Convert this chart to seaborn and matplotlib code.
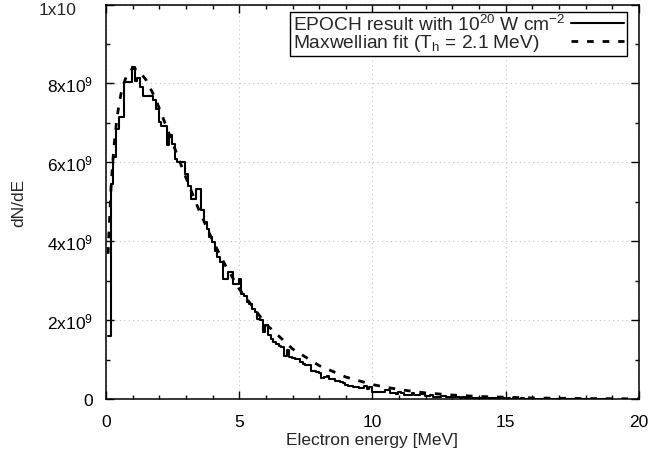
import numpy as np
import pandas as pd
import matplotlib
matplotlib.use("Agg")
import matplotlib.pyplot as plt
import seaborn as sns
from matplotlib.ticker import MultipleLocator, FixedLocator, FixedFormatter

# ---------------- data (dN/dE in units of 1e9) ----------------
bin_width = 0.1
first_edge = 0.075
hist_counts = [
    1.60, 5.45, 6.13, 6.84, 7.15, 7.15, 8.04, 8.04, 8.04, 8.42,
    8.06, 8.14, 7.91, 7.67, 7.67, 7.67, 7.67, 7.57, 7.36, 7.02,
    6.92, 6.92, 6.43, 6.70, 6.47, 6.09, 6.01, 6.01, 6.01, 5.71,
    5.41, 5.08, 5.08, 5.33, 5.33, 4.78, 4.48, 4.31, 4.10, 3.98,
    3.76, 3.60, 3.47, 3.05, 3.05, 3.22, 3.22, 2.92, 2.92, 3.05,
    2.66, 2.60, 2.45, 2.40, 2.28, 2.20, 2.03, 2.00, 1.69, 1.88,
    1.61, 1.52, 1.45, 1.40, 1.35, 1.31, 1.10, 1.23, 1.06, 1.04,
    1.02, 1.02, 0.95, 0.89, 0.87, 0.85, 0.72, 0.70, 0.68, 0.66,
    0.53, 0.56, 0.59, 0.51, 0.50, 0.46, 0.45, 0.42, 0.40, 0.36,
    0.34, 0.34, 0.31, 0.30, 0.28, 0.27, 0.33, 0.25, 0.30, 0.19,
    0.185, 0.18, 0.19, 0.18, 0.23, 0.22, 0.14, 0.14, 0.13, 0.17,
    0.16, 0.11, 0.11, 0.10, 0.15, 0.09, 0.09, 0.12, 0.12, 0.08,
    0.08, 0.10, 0.06, 0.06, 0.06, 0.08, 0.07, 0.04, 0.05, 0.04,
    0.04, 0.05, 0.03, 0.04, 0.03, 0.04, 0.03, 0.03, 0.02, 0.03,
    0.03, 0.02, 0.02, 0.03, 0.02, 0.02, 0.015, 0.02, 0.015, 0.01,
    0.02, 0.01, 0.015, 0.01, 0.01, 0.015, 0.01, 0.01, 0.005, 0.01,
    0.01, 0.005, 0.01, 0.005, 0.005, 0.01, 0.005, 0.005, 0.004, 0.005,
    0.004, 0.003, 0.005, 0.003, 0.003, 0.004, 0.002, 0.003, 0.002, 0.002,
    0.003, 0.002, 0.002, 0.001, 0.002, 0.001, 0.002, 0.001, 0.001,
]

fit_energy = [0.08, 0.1, 0.2, 0.3, 0.4, 0.5, 0.6, 0.8, 1.0, 1.2, 1.5, 1.8,
              2.0, 2.5, 3.0, 3.5, 4.0, 4.5, 5.0, 6.0, 7.0, 8.0, 9.0, 10.0,
              11.0, 12.0, 13.0, 14.0, 16.0, 18.0, 20.0]
fit_counts = [3.68, 4.07, 5.49, 6.41, 7.06, 7.52, 7.86, 8.25, 8.38, 8.35, 8.09, 7.69,
              7.37, 6.49, 5.61, 4.77, 4.02, 3.36, 2.79, 1.90, 1.27, 0.846, 0.557, 0.365,
              0.238, 0.154, 0.0998, 0.064, 0.0265, 0.0109, 0.0044]

x_ticks = [0, 5, 10, 15, 20]
y_ticks = [0, 2e9, 4e9, 6e9, 8e9, 1e10]
y_tick_labels = ["0", "2x10$^{9}$", "4x10$^{9}$", "6x10$^{9}$", "8x10$^{9}$", ""]
top_label = "1x10"   # label of the 1e10 tick, whose exponent is cut off at the top
label_hist = "EPOCH result with 10$^{20}$ W cm$^{-2}$"
label_fit = "Maxwellian fit (T$_{\\mathrm{h}}$ = 2.1 MeV)"

# ---------------- frames ----------------
edges = first_edge + bin_width * np.arange(len(hist_counts) + 1)
hist_df = pd.DataFrame({"E": edges,
                        "N": np.array(hist_counts + [hist_counts[-1]]) * 1e9})
fit_df = pd.DataFrame({"E": fit_energy, "N": np.array(fit_counts) * 1e9})

# ---------------- style ----------------
sns.set_style("ticks")
plt.rcParams["font.family"] = ["Liberation Sans", "DejaVu Sans"]
plt.rcParams["mathtext.fontset"] = "custom"
plt.rcParams["mathtext.rm"] = "Liberation Sans"
plt.rcParams["mathtext.it"] = "Liberation Sans:italic"
plt.rcParams["mathtext.bf"] = "Liberation Sans:bold"
plt.rcParams["mathtext.default"] = "regular"
FS = 12.5
LFS = 13.8

fig = plt.figure(figsize=(6.5, 4.64), dpi=100)
ax = fig.add_axes([106 / 650, 64 / 464, 533 / 650, 394.5 / 464])

sns.lineplot(data=hist_df, x="E", y="N", ax=ax, color="black", lw=1.5,
             drawstyle="steps-post", sort=False, estimator=None,
             label=label_hist)
sns.lineplot(data=fit_df, x="E", y="N", ax=ax, color="black", lw=2.0,
             linestyle=(0, (2.4, 3.2)), sort=False, estimator=None,
             label=label_fit)

ax.set_xlim(0, 20)
ax.set_ylim(0, 1e10)
ax.xaxis.set_major_locator(FixedLocator(x_ticks))
ax.xaxis.set_minor_locator(MultipleLocator(1))
ax.yaxis.set_major_locator(FixedLocator(y_ticks))
ax.yaxis.set_major_formatter(FixedFormatter(y_tick_labels))
ax.yaxis.set_minor_locator(MultipleLocator(1e9))

ax.tick_params(which="both", direction="in", top=True, right=True,
               labelsize=FS, colors="black", width=1.0)
ax.tick_params(which="major", length=5.5)
ax.tick_params(which="minor", length=2.8)
ax.tick_params(axis="x", which="major", pad=11)
ax.tick_params(axis="y", which="major", pad=9.5)

ax.annotate(top_label, xy=(0, 1), xycoords="axes fraction",
            xytext=(-20.9, -6.8), textcoords="offset points",
            ha="right", va="baseline", fontsize=FS)

for s in ax.spines.values():
    s.set_visible(True)
    s.set_linewidth(1.1)
    s.set_color("black")

ax.grid(True, which="major", linestyle=(0, (1, 3)), color="#c4c4c4", lw=0.8)

ax.set_xlabel("Electron energy [MeV]", fontsize=FS, labelpad=2)
ax.set_ylabel("dN/dE", fontsize=FS, labelpad=15)

leg = ax.legend(loc="upper right", bbox_to_anchor=(0.977, 0.982),
                borderaxespad=0, fontsize=LFS, markerfirst=False,
                handlelength=2.8, handletextpad=0.3, labelspacing=-0.08,
                borderpad=0.12, fancybox=False, framealpha=1, edgecolor="black")
leg.get_frame().set_linewidth(1.0)

# left-justify the legend texts while keeping the line samples at the right
fig.canvas.draw()
renderer = fig.canvas.get_renderer()
widths = [t.get_window_extent(renderer).width for t in leg.get_texts()]
rows = leg._legend_handle_box.get_children()[0].get_children()
wmax = max(widths)
for row, w in zip(rows, widths):
    row.sep = row.sep + (wmax - w) * 72.0 / fig.dpi

fig.savefig("out.png", dpi=100)
